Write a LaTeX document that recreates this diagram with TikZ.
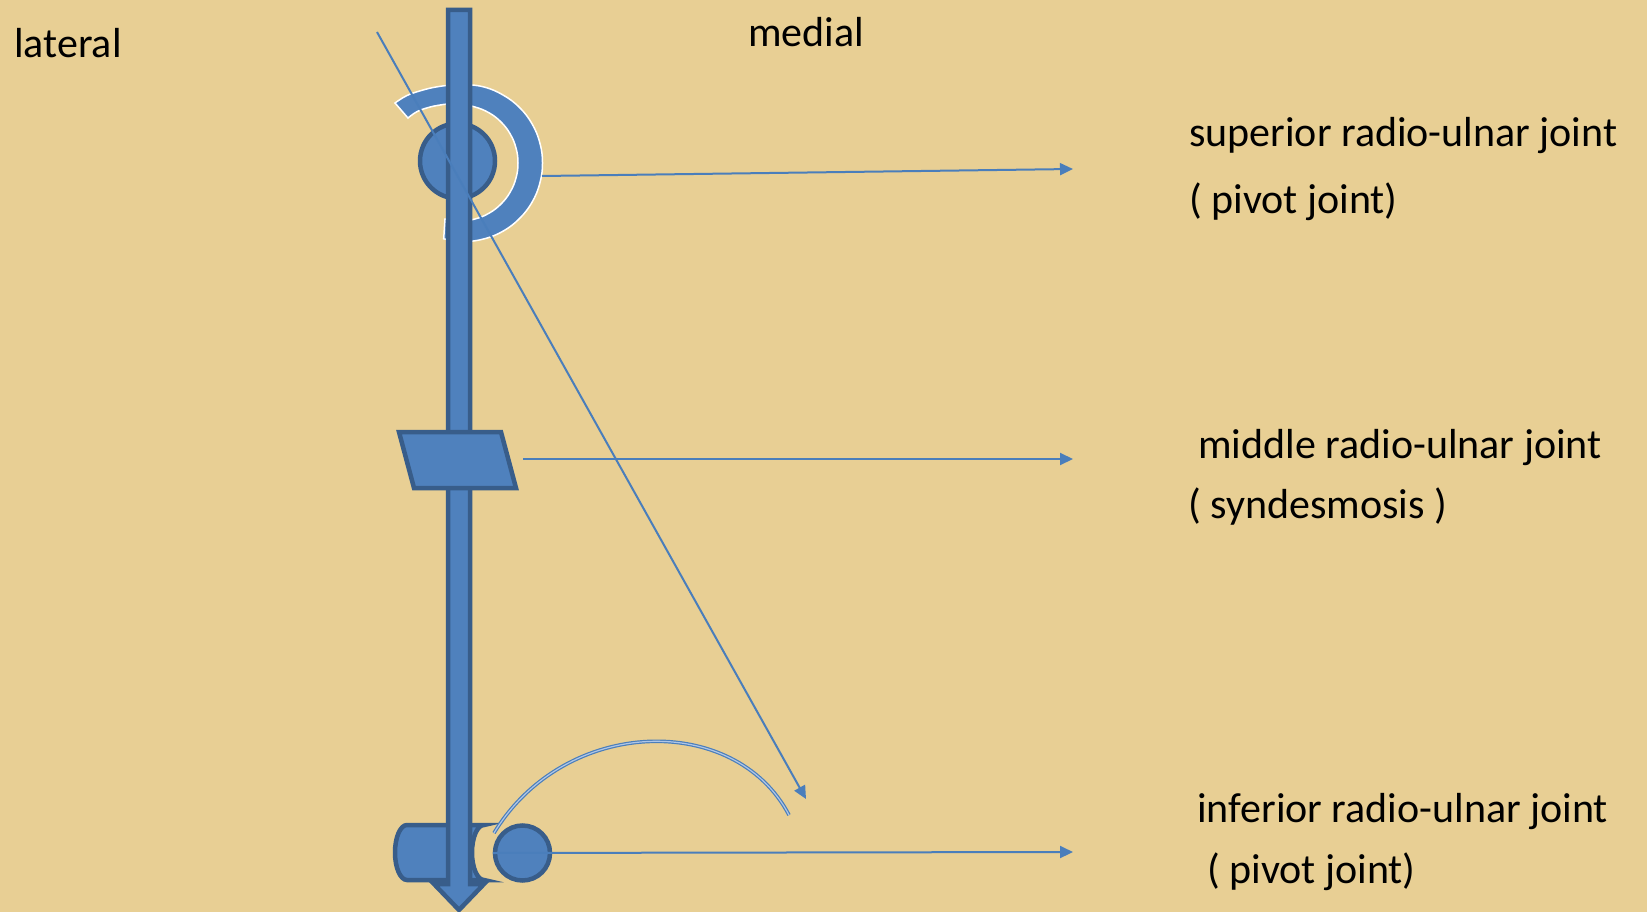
\documentclass[tikz,border=0pt]{standalone}
\usepackage{fontspec}
\setmainfont{Carlito}
\usetikzlibrary{arrows.meta}
\definecolor{bg}{RGB}{232,207,148}
\definecolor{bfill}{RGB}{79,129,189}
\definecolor{bline}{RGB}{56,93,138}
\definecolor{aline}{RGB}{74,126,187}
\definecolor{dlight}{RGB}{175,198,230}
\begin{document}
\begin{tikzpicture}[x=1pt,y=-1pt,
  solid shape/.style={fill=bfill, draw=bline, line width=4.5pt, line join=miter},
  conn/.style={draw=aline, line width=2pt, -{Triangle[length=13pt,width=12pt]}},
  lbl/.style={anchor=base west, inner sep=0pt, font=\fontsize{42}{48}\selectfont, text=black}]
\useasboundingbox (0,0) rectangle (1647,912);
\fill[bg] (0,0) rectangle (1647,912);

% ring (block arc) around the head of the radius
\filldraw[fill=bfill, draw=white, line width=1.5pt]
  plot[smooth, tension=0.7] coordinates {(395,103) (407,95.5) (422,90.3) (436,87) (450,85.2) (464,84.5) (484,87) (503,95) (519.5,107.5) (532,123.8) (539.8,142.7) (542.5,163) (539.8,183.3) (532,202.3) (519.5,218.5) (503.3,231) (484.3,238.8) (464,241.5) (443.7,238.8)}
  -- plot[smooth, tension=0.7] coordinates {(445,219) (460,221) (475,219) (489,213.2) (501,204) (510.2,192) (516,178) (518,163) (516,148) (510.2,134) (501,122) (489,112.8) (475,107) (460,104) (449.6,103.9) (439,105.2) (428,107.6) (416.9,111.7) (408,118)}
  -- cycle;

% head circle
\node[solid shape, circle, minimum size=75pt, inner sep=0pt] (hc) at (457.5,161) {};

% lower end (can shape)
\draw[solid shape] (407,825) -- (484,825)
  arc[start angle=-90, end angle=-270, x radius=12, y radius=27.5]
  -- (407,880)
  arc[start angle=90, end angle=270, x radius=12, y radius=27.5] -- cycle;

% main shaft arrow
\draw[solid shape] (448,10) -- (470,10) -- (470,884) -- (484,884) -- (459,910)
  -- (434,884) -- (448,884) -- cycle;

% middle parallelogram
\draw[solid shape] (399,432) -- (501,432) -- (516,488) -- (414,488) -- cycle;
\coordinate (pgR) at (523,459);

% ulna head circle
\node[solid shape, circle, minimum size=55pt, inner sep=0pt] (uc) at (522.5,853) {};

% rotation arc
\coordinate (a0) at (494,833);
\coordinate (a1) at (789,815);
\draw[draw=aline, line width=1.2pt, double=dlight, double distance=1.2pt]
  (a0) .. controls (565,716) and (735,712) .. (a1);

% connectors
\coordinate (ringR) at (542,176);
\coordinate (t1) at (1073,169);
\coordinate (t2) at (1073,459);
\coordinate (t3) at (1073,852);
\coordinate (d0) at (377,32);
\coordinate (d1) at (806,799);
\draw[conn] (ringR) -- (t1);
\draw[conn] (pgR) -- (t2);
\draw[conn] (uc.west) -- (t3);
\draw[conn] (d0) -- (d1);

% labels
\node[lbl] (lat) at (14,58) {lateral};
\node[lbl] (med) at (748,47) {medial};
\node[lbl] (s1) at (1189,147) {superior radio-ulnar joint};
\node[lbl] (s2) at (1189,214) {( pivot joint)};
\node[lbl] (m1) at (1198,458) {middle radio-ulnar joint};
\node[lbl] (m2) at (1188,518) {( syndesmosis )};
\node[lbl] (i1) at (1197,822) {inferior radio-ulnar joint};
\node[lbl] (i2) at (1207,883) {( pivot joint)};
\end{tikzpicture}
\end{document}
